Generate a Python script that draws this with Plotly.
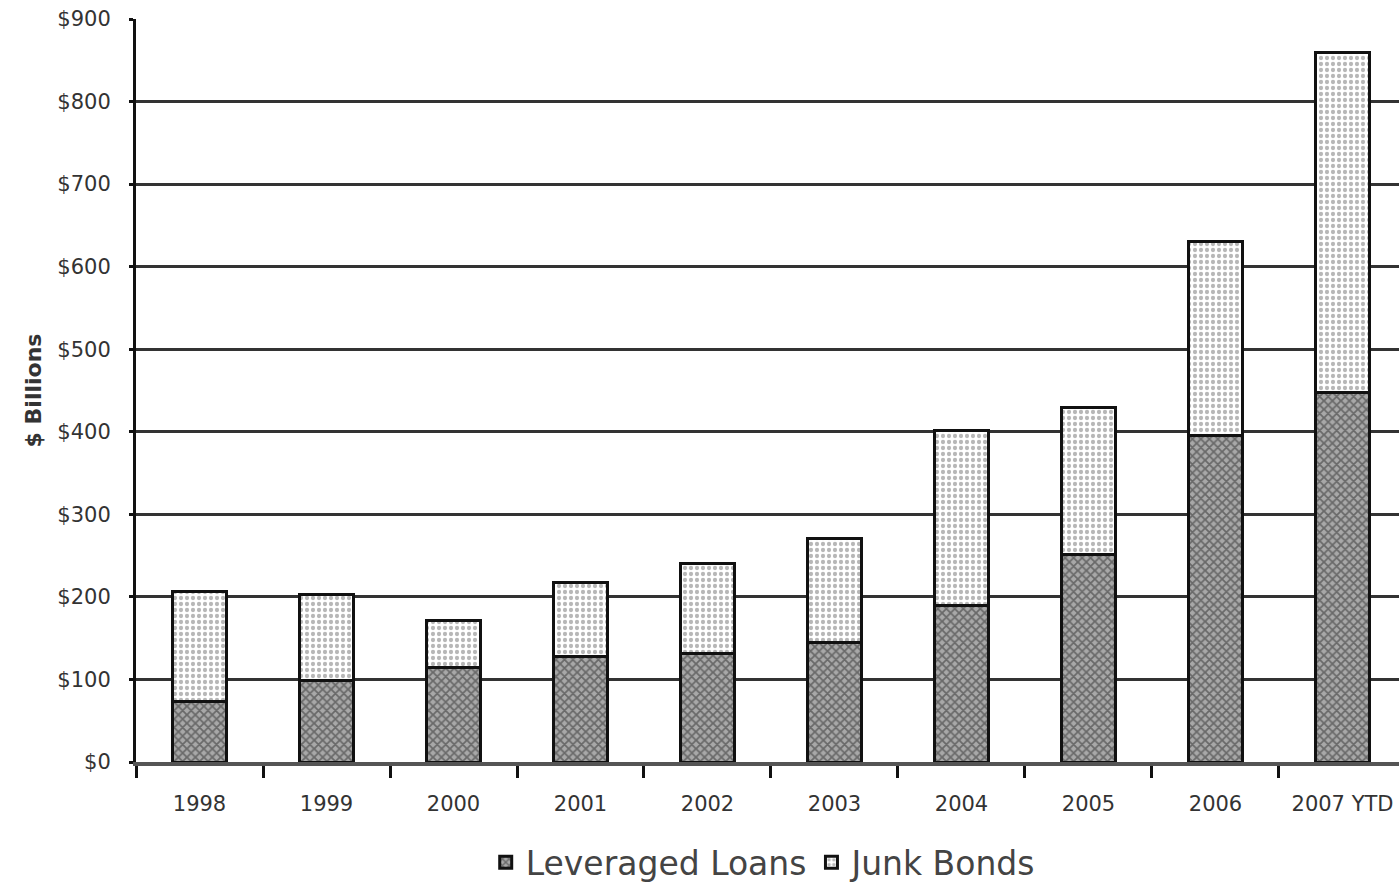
import plotly.graph_objects as go

years = ["1998", "1999", "2000", "2001", "2002", "2003", "2004", "2005", "2006", "2007 YTD"]
leveraged_loans = [73, 99, 114, 128, 132, 145, 190, 251, 395, 448]
junk_bonds = [134, 104, 58, 89, 108, 126, 212, 178, 235, 411]
y_ticks = [0, 100, 200, 300, 400, 500, 600, 700, 800, 900]
y_tick_labels = ["$0", "$100", "$200", "$300", "$400", "$500", "$600", "$700", "$800", "$900"]

font_family = "DejaVu Sans"

fig = go.Figure()
fig.add_trace(go.Bar(
    x=years, y=leveraged_loans, name="Leveraged Loans",
    width=0.42,
    marker=dict(
        color="#777777",
        line=dict(color="#111", width=3),
        pattern=dict(shape="x", fgcolor="#2a2a2a", bgcolor="#a8a8a8", size=6, solidity=0.5),
    ),
))
fig.add_trace(go.Bar(
    x=years, y=junk_bonds, name="Junk Bonds",
    width=0.42,
    marker=dict(
        color="#eeeeee",
        line=dict(color="#111", width=3),
        pattern=dict(shape=".", fgcolor="#707070", bgcolor="#ffffff", size=6, solidity=0.4),
    ),
))

fig.update_layout(
    barmode="stack",
    width=1399, height=883,
    margin=dict(l=136, r=0, t=19, b=121, autoexpand=False),
    paper_bgcolor="white", plot_bgcolor="white",
    font=dict(family=font_family, color="#222"),
    showlegend=True,
    legend=dict(
        orientation="h", x=0.497, xanchor="center", y=-0.135, yanchor="middle",
        font=dict(size=33, color="#444", family=font_family),
        itemwidth=30, traceorder="normal",
    ),
)
fig.update_xaxes(
    type="category", range=[-0.5, 9.445], automargin=False,
    showline=True, linecolor="#555", linewidth=4,
    ticks="outside", tickson="boundaries", ticklen=12, tickwidth=3, tickcolor="#111",
    tickfont=dict(size=21, color="#333", family=font_family),
    ticklabelstandoff=20,
    showgrid=False,
)
fig.update_yaxes(
    range=[0, 900], tickvals=y_ticks, ticktext=y_tick_labels, automargin=False,
    showgrid=True, gridcolor="#333", gridwidth=3,
    showline=True, linecolor="#111", linewidth=3,
    ticks="outside", ticklen=4, tickwidth=3, tickcolor="#111",
    tickfont=dict(size=21, color="#333", family=font_family),
    ticklabelstandoff=14,
    zeroline=False,
    title=dict(text="<b>$ Billions</b>", font=dict(size=22, color="#333", family=font_family), standoff=10),
)

fig.write_html("out.html")
